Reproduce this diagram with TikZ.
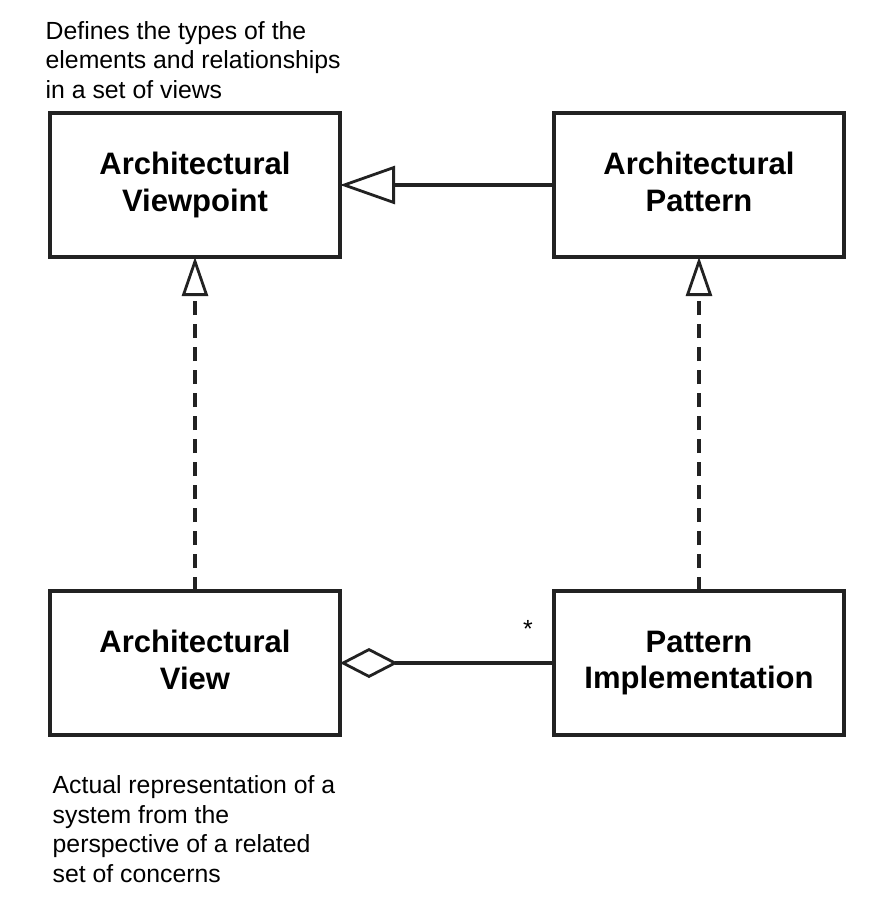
\documentclass[tikz,border=0pt]{standalone}
\usepackage{fontspec}
\setmainfont{Liberation Sans}
\usetikzlibrary{arrows.meta}
\definecolor{ink}{HTML}{222222}
\tikzset{
  umlbox/.style={draw=ink, line width=4pt, minimum width=290pt, minimum height=144pt,
    inner sep=0pt, outer sep=0pt, align=center, text=black, font=\bfseries\fontsize{31}{36.7}\selectfont},
  note/.style={align=left, inner sep=0pt, text=black, font=\fontsize{24.8}{29.4}\selectfont, anchor=base west},
  assoc/.style={draw=ink, line width=3.2pt},
  realize/.style={draw=ink, line width=3.2pt, dash pattern=on 14pt off 9pt},
  bigtri/.style={-{Triangle[open, length=55pt, width=38pt, line width=2.8pt]}},
  smalltri/.style={-{Triangle[open, length=39pt, width=26pt, line width=2.8pt]}},
  aggr/.style={{Diamond[open, length=58pt, width=30pt, line width=2.8pt]}-}
}
\begin{document}
\begin{tikzpicture}[x=1pt, y=-1pt]
\useasboundingbox (0,0) rectangle (870,898);
\fill[white] (0,0) rectangle (870,898);

\node[umlbox] (vp) at (195,185) {Architectural\\Viewpoint};
\node[umlbox] (ap) at (699,185) {Architectural\\Pattern\vphantom{p}};
\node[umlbox] (av) at (195,663) {Architectural\\View\vphantom{p}};
\node[umlbox] (pi) at (699,663) {Pattern\\Implementation};

\draw[assoc, bigtri] (ap.west) -- (vp.east);
\draw[realize, smalltri] (av.north) -- (vp.south);
\draw[realize, smalltri] (pi.north) -- (ap.south);
\draw[assoc, aggr] (av.east) -- (pi.west);

\node[inner sep=0pt, anchor=base, text=black, font=\fontsize{24.8}{29.2}\selectfont] (mult) at (528,637) {*};

\node[note] (defnote) at (45.5,98.2) {Defines the types of the\\elements and relationships\\in a set of views};
\node[note] (viewnote) at (52.5,882) {Actual representation of a\\system from the\\perspective of a related\\set of concerns};
\end{tikzpicture}
\end{document}
